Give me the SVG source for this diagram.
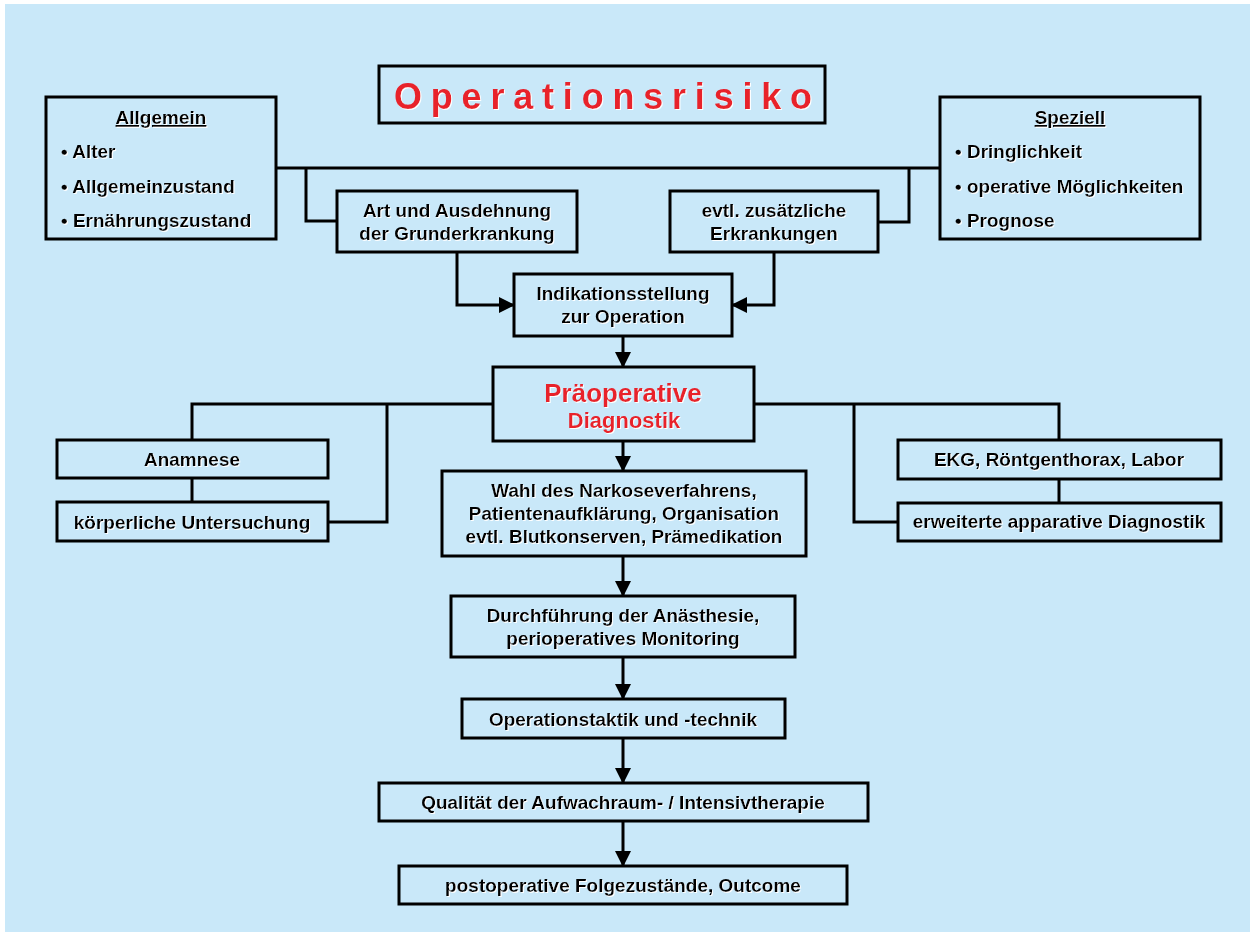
<svg xmlns="http://www.w3.org/2000/svg" width="1250" height="932" viewBox="0 0 1250 932">
<defs>
<style>
.box{fill:#C9E8F9;stroke:#000;stroke-width:3}
.ln{fill:none;stroke:#000;stroke-width:3}
.t{font-family:"Liberation Sans",Arial,sans-serif;font-weight:bold;font-size:19px;fill:#000;text-anchor:middle}
.l{text-anchor:start}
.red{fill:#E8202A}
.u{text-decoration:underline}
</style>
<filter id="sh" x="-5%" y="-20%" width="110%" height="140%">
<feOffset in="SourceAlpha" dx="1" dy="1" result="o"/>
<feFlood flood-color="#ffffff"/>
<feComposite in2="o" operator="in" result="w"/>
<feMerge><feMergeNode in="w"/><feMergeNode in="SourceGraphic"/></feMerge>
</filter>
<marker id="ah" viewBox="0 0 16 16" refX="15" refY="8" markerWidth="16" markerHeight="16" markerUnits="userSpaceOnUse" orient="auto">
<path d="M0,0 L16,8 L0,16 Z" fill="#000"/>
</marker>
</defs>
<rect x="0" y="0" width="1250" height="932" fill="#ffffff"/>
<rect x="5" y="4" width="1245" height="928" fill="#C9E8F9"/>

<g id="connectors">
<path class="ln" d="M276,168 H940"/>
<path class="ln" d="M306,168 V221 H337"/>
<path class="ln" d="M909,168 V222 H878"/>
<path class="ln" d="M457,252 V305 H514" marker-end="url(#ah)"/>
<path class="ln" d="M774,252 V305 H732" marker-end="url(#ah)"/>
<path class="ln" d="M623,336 V367" marker-end="url(#ah)"/>
<path class="ln" d="M493,404 H192 V440"/>
<path class="ln" d="M387,404 V522 H328"/>
<path class="ln" d="M192,478 V502"/>
<path class="ln" d="M754,404 H1059 V440"/>
<path class="ln" d="M854,404 V522 H898"/>
<path class="ln" d="M1059,479 V503"/>
<path class="ln" d="M623,441 V471" marker-end="url(#ah)"/>
<path class="ln" d="M623,556 V596" marker-end="url(#ah)"/>
<path class="ln" d="M623,657 V699" marker-end="url(#ah)"/>
<path class="ln" d="M623,738 V783" marker-end="url(#ah)"/>
<path class="ln" d="M623,821 V866" marker-end="url(#ah)"/>
</g>

<g id="title">
<rect class="box" x="379" y="66" width="446" height="57"/>
<text class="t l red" x="394" y="109" style="font-size:36px;letter-spacing:8.8px" filter="url(#sh)">Operationsrisiko</text>
</g>

<g id="allgemein">
<rect class="box" x="46" y="97" width="230" height="142"/>
<g filter="url(#sh)">
<text class="t u" x="161" y="124">Allgemein</text>
<text class="t l" x="61" y="158">• Alter</text>
<text class="t l" x="61" y="193">• Allgemeinzustand</text>
<text class="t l" x="61" y="227">• Ernährungszustand</text>
</g>
</g>

<g id="speziell">
<rect class="box" x="940" y="97" width="260" height="142"/>
<g filter="url(#sh)">
<text class="t u" x="1070" y="124">Speziell</text>
<text class="t l" x="955" y="158">• Dringlichkeit</text>
<text class="t l" x="955" y="193">• operative Möglichkeiten</text>
<text class="t l" x="955" y="227">• Prognose</text>
</g>
</g>

<g id="art">
<rect class="box" x="337" y="191" width="240" height="61"/>
<g filter="url(#sh)">
<text class="t" x="457" y="217">Art und Ausdehnung</text>
<text class="t" x="457" y="240">der Grunderkrankung</text>
</g>
</g>

<g id="evtl">
<rect class="box" x="670" y="191" width="208" height="61"/>
<g filter="url(#sh)">
<text class="t" x="774" y="217">evtl. zusätzliche</text>
<text class="t" x="774" y="240">Erkrankungen</text>
</g>
</g>

<g id="indikation">
<rect class="box" x="514" y="274" width="218" height="62"/>
<g filter="url(#sh)">
<text class="t" x="623" y="300">Indikationsstellung</text>
<text class="t" x="623" y="323">zur Operation</text>
</g>
</g>

<g id="praeop">
<rect class="box" x="493" y="367" width="261" height="74"/>
<g filter="url(#sh)">
<text class="t red" x="623" y="402" style="font-size:26px">Präoperative</text>
<text class="t red" x="624" y="428" style="font-size:22px">Diagnostik</text>
</g>
</g>

<g id="anamnese">
<rect class="box" x="57" y="440" width="271" height="38"/>
<text class="t" x="192" y="466" filter="url(#sh)">Anamnese</text>
</g>

<g id="koerper">
<rect class="box" x="57" y="502" width="271" height="39"/>
<text class="t" x="192" y="529" filter="url(#sh)">körperliche Untersuchung</text>
</g>

<g id="ekg">
<rect class="box" x="898" y="440" width="323" height="39"/>
<text class="t" x="1059" y="466" filter="url(#sh)">EKG, Röntgenthorax, Labor</text>
</g>

<g id="erweitert">
<rect class="box" x="898" y="503" width="323" height="38"/>
<text class="t" x="1059" y="528" filter="url(#sh)">erweiterte apparative Diagnostik</text>
</g>

<g id="wahl">
<rect class="box" x="442" y="471" width="364" height="85"/>
<g filter="url(#sh)">
<text class="t" x="624" y="497">Wahl des Narkoseverfahrens,</text>
<text class="t" x="624" y="520">Patientenaufklärung, Organisation</text>
<text class="t" x="624" y="543">evtl. Blutkonserven, Prämedikation</text>
</g>
</g>

<g id="durchfuehrung">
<rect class="box" x="451" y="596" width="344" height="61"/>
<g filter="url(#sh)">
<text class="t" x="623" y="622">Durchführung der Anästhesie,</text>
<text class="t" x="623" y="645">perioperatives Monitoring</text>
</g>
</g>

<g id="taktik">
<rect class="box" x="462" y="699" width="323" height="39"/>
<text class="t" x="623" y="726" filter="url(#sh)">Operationstaktik und -technik</text>
</g>

<g id="qualitaet">
<rect class="box" x="379" y="783" width="489" height="38"/>
<text class="t" x="623" y="809" filter="url(#sh)">Qualität der Aufwachraum- / Intensivtherapie</text>
</g>

<g id="postop">
<rect class="box" x="399" y="866" width="448" height="38"/>
<text class="t" x="623" y="892" filter="url(#sh)">postoperative Folgezustände, Outcome</text>
</g>
</svg>
